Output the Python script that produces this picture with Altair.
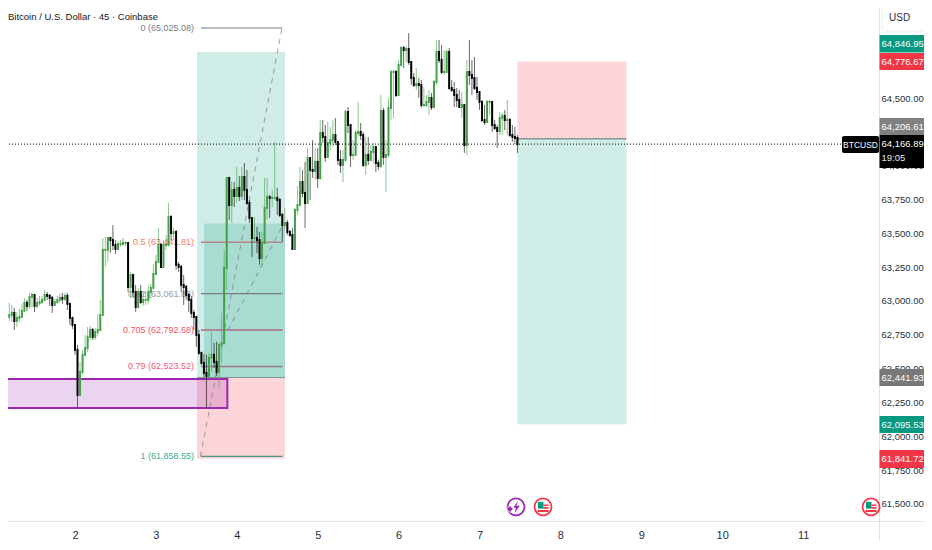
import altair as alt
import pandas as pd

FONT = "Liberation Sans"

first_candle = -26
first_open = 62890
closes = [62904,62919,62860,62882,62889,62934,62993,62971,63037,63052,62971,62993,63000,63015,63052,63045,63030,62978,63000,63015,63030,63023,63045,62986,62882,62830,
62646,62313,62483,62609,62660,62742,62793,62742,62778,62793,62904,63385,63385,63473,63458,63421,63392,63429,63429,63436,63436,63111,63200,63074,62964,63074,63000,63015,63015,63074,63104,63207,
63296,63421,63259,63421,63421,63628,63510,63517,63274,63259,63126,63111,63052,63015,62919,62889,62756,62624,62550,62476,62454,62587,62609,62557,62483,62682,62697,63252,
63917,63717,63828,63784,63843,63784,63924,63828,63732,63621,63473,63473,63458,63325,63436,63695,63776,63769,63769,63769,63754,63643,63569,63584,63517,63495,63392,63680,63717,63887,
63806,63732,64064,63976,63968,64035,63917,64249,64220,64072,64175,64197,64234,64183,64050,64013,64050,64404,64308,64087,64087,64249,64257,64234,64013,64087,64050,64109,64146,64027,
64005,64412,64072,64087,64434,64700,64700,64530,64752,64877,64862,64870,64774,64656,64604,64611,64604,64456,64456,64478,64508,64441,64626,64848,64789,64700,64700,64848,64582,64567,
64530,64493,64441,64456,64160,64700,64678,64656,64582,64552,64478,64345,64331,64478,64478,64308,64286,64264,64360,64375,64345,64345,64234,64220,64212,64166.89]
highs = [62993,62978,62956,62927,62949,62986,63030,63015,63067,63067,63059,63030,63045,63045,63089,63074,63059,63045,63023,63045,63059,63067,63067,63067,62993,62882,
62830,62682,62557,62646,62756,62815,62823,62808,62808,62912,63015,63473,63480,63480,63480,63569,63458,63451,63458,63473,63451,63436,63222,63200,63126,63104,63126,63074,63082,63119,63133,63281,
63348,63547,63436,63458,63495,63732,63643,63547,63532,63296,63274,63200,63126,63067,63045,62941,62897,62793,62624,62616,62609,62624,62778,62697,62705,62697,62919,63385,
63924,63924,63887,63887,63998,63931,63998,64027,63976,63754,63591,63628,63554,63517,63517,63917,63917,63791,63828,64183,63843,63769,63658,63695,63606,63532,63547,63695,63857,63998,
63976,64035,64138,64064,64197,64138,64138,64345,64345,64308,64331,64294,64345,64360,64183,64124,64124,64419,64441,64308,64197,64271,64478,64323,64257,64220,64220,64160,64175,64153,
64050,64530,64434,64197,64508,64715,64715,64715,64789,64892,64892,64892,64988,64774,64693,64729,64656,64641,64589,64530,64567,64545,64641,64936,64936,64899,64862,64862,64877,64641,
64626,64582,64567,64552,64456,64789,64936,64789,64811,64663,64552,64493,64456,64493,64493,64471,64345,64308,64404,64397,64419,64493,64360,64308,64294,64234]
lows = [62860,62852,62793,62815,62852,62897,62934,62934,62949,62956,62927,62949,62971,62986,63008,63015,62971,62919,62971,62986,62993,62986,63008,62941,62830,62801,
62609,62217,62328,62461,62602,62631,62720,62720,62720,62749,62793,62897,63259,63296,63362,63385,63355,63385,63407,63414,63414,63074,63030,63030,62927,62949,62986,62971,62978,62986,63030,63104,
63200,63296,63252,63252,63385,63414,63458,63458,63237,63222,63074,62978,63015,62927,62882,62793,62668,62609,62535,62446,62217,62446,62483,62513,62454,62365,62550,62682,
63089,63606,63584,63702,63739,63747,63754,63754,63717,63584,63333,63436,63362,63274,63259,63436,63606,63621,63702,63754,63643,63628,63444,63532,63495,63480,63385,63385,63643,63717,
63776,63547,63732,63754,63917,63902,63843,63902,64175,64035,64087,64124,64146,64160,64013,63954,63887,64050,64249,63998,64050,64087,64220,64197,63998,63939,64013,64050,64027,63961,
63976,63990,64013,63813,64072,64345,64360,64515,64530,64744,64729,64774,64752,64604,64589,64567,64508,64434,64441,64441,64382,64419,64434,64604,64766,64685,64678,64693,64567,64552,
64441,64441,64434,64360,64101,64087,64604,64530,64567,64493,64419,64331,64308,64323,64382,64257,64271,64138,64234,64234,64271,64234,64220,64183,64167,64101]

day_ticks = [2,3,4,5,6,7,8,9,10,11]
price_ticks = [61500,61750,62000,62250,62500,62750,63000,63250,63500,63750,64000,64500]

fib_levels = ["0","0.5","0.62","0.705","0.79","1"]
fib_prices = [65025.08,63441.81,63061.83,62792.68,62523.52,61858.55]
fib_text = ["#787b86","#f5796c","#9a9da6","#f4525f","#ee5a7c","#35ad93"]
fib_line = ["#787b86","#b9848c","#787b86","#b0688a","#9b7488","#4a9585"]
fib_days = [3.557,4.565]
fib_label_day = 3.471

long_days = [3.508,4.596]
long_prices = [64846.95,62441.93,61841.72]
short_days = [7.470,8.817]
short_prices = [64776.67,64206.61,62095.53]
zone_days = [3.595,4.596]
zone_prices = [63580,62441.93]
purple_days = [1.0,3.883]
purple_prices = [62431,62217]
dash_a = [[3.551,61858.55],[4.559,65025.08]]
dash_b = [[3.891,62792.68],[4.559,63554]]
last_price = 64166.89

flag_days = [7.785,11.84]
bolt_day = 7.451
icon_price = 61485

xs = alt.Scale(domain=[1.172,11.938], nice=False, zero=False)
ys = alt.Scale(domain=[61381,65173], nice=False, zero=False)

x_axis = alt.Axis(title=None,values=day_ticks,format="d",domain=False,ticks=False,grid=False,
    labelFont=FONT,labelFontSize=11,labelColor="#2a2e39",labelPadding=8,labelFlush=False)
y_axis = alt.Axis(title=None,orient="right",values=price_ticks,format=",.2f",domain=False,ticks=False,grid=False,
    labelFont=FONT,labelFontSize=9.5,labelColor="#2a2e39",labelPadding=2,labelOverlap=False,labelOffset=-1)

def X(f): return alt.X(f, type="quantitative", scale=xs, axis=x_axis)
def Y(f): return alt.Y(f, type="quantitative", scale=ys, axis=y_axis)
def D(rows): return alt.Data(values=rows)

def box(d0,d1,p0,p1,fill,**kw):
    return alt.Chart(D([{"a":d0,"b":d1,"p":p0,"q":p1}])).mark_rect(fill=fill,**kw).encode(
        x=X("a"),x2=alt.X2("b"),y=Y("p"),y2=alt.Y2("q"))
def hline(d0,d1,p,color,width=1,**kw):
    return alt.Chart(D([{"a":d0,"b":d1,"p":p}])).mark_rule(color=color,strokeWidth=width,**kw).encode(
        x=X("a"),x2=alt.X2("b"),y=Y("p"))
def seg(pair):
    return alt.Chart(D([{"a":pair[0][0],"b":pair[1][0],"p":pair[0][1],"q":pair[1][1]}])).mark_rule(
        color="#787b86",strokeWidth=1,strokeDash=[5,5],opacity=.75).encode(
        x=X("a"),x2=alt.X2("b"),y=Y("p"),y2=alt.Y2("q"))

rows=[]
prev=first_open
for i,(c,h,l) in enumerate(zip(closes,highs,lows)):
    day=2+(first_candle+i)/32
    rows.append({"day":day,"open":prev,"close":c,"high":max(h,prev,c),"low":min(l,prev,c),
                 "col":"#43a047" if c>=prev else "#000000"})
    prev=c
df=pd.DataFrame(rows)

layers=[box(long_days[0],long_days[1],long_prices[0],long_prices[1],"#cfece6"),
        box(long_days[0],long_days[1],long_prices[1],long_prices[2],"#fcd5d8"),
        box(zone_days[0],zone_days[1],zone_prices[0],zone_prices[1],"#a8dcd1"),
        box(short_days[0],short_days[1],short_prices[0],short_prices[1],"#fcd5d8"),
        box(short_days[0],short_days[1],short_prices[1],short_prices[2],"#cfece6"),
        hline(long_days[0],long_days[1],long_prices[1],"#7f9a95"),
        hline(short_days[0],short_days[1],short_prices[1],"#8a9598",1.5)]
for lv,p,tc,lc in zip(fib_levels,fib_prices,fib_text,fib_line):
    layers.append(hline(fib_days[0],fib_days[1],p,lc,1.5 if lv in("0.5","0.705","0.79") else 1.2))
    layers.append(alt.Chart(D([{"d":fib_label_day,"p":p,"t":f"{lv} ({p:,.2f})"}])).mark_text(
        align="right",baseline="middle",font=FONT,fontSize=9,color=tc).encode(x=X("d"),y=Y("p"),text="t:N"))
layers.append(box(purple_days[0],purple_days[1],purple_prices[0],purple_prices[1],"#9c27b0",
                  fillOpacity=.2,stroke="#9c27b0",strokeWidth=2))
layers+=[seg(dash_a),seg(dash_b)]

base=alt.Chart(df)
layers.append(base.mark_rule(strokeWidth=1,opacity=.6).encode(
    x=X("day"),y=Y("low"),y2=alt.Y2("high"),color=alt.Color("col:N",scale=None)))
layers.append(base.mark_rule(strokeWidth=2,strokeCap="square").encode(
    x=X("day"),y=Y("open"),y2=alt.Y2("close"),color=alt.Color("col:N",scale=None)))

# last price line
layers.append(alt.Chart(D([{"p":last_price}])).mark_rule(color="#000000",strokeWidth=1,strokeDash=[1,2]).encode(
    x=alt.value(-8),x2=alt.value(836),y=Y("p")))

# frame
layers.append(alt.Chart(D([{}])).mark_rule(color="#e0e3eb",strokeWidth=1).encode(
    x=alt.value(871.5),y=alt.value(-8),y2=alt.value(534)))
layers.append(alt.Chart(D([{}])).mark_rule(color="#e0e3eb",strokeWidth=1).encode(
    x=alt.value(-8),x2=alt.value(924),y=alt.value(513.5)))

def pixrect(x0,x1,y0,y1,fill,**kw):
    return alt.Chart(D([{}])).mark_rect(fill=fill,**kw).encode(
        x=alt.value(x0),x2=alt.value(x1),y=alt.value(y0),y2=alt.value(y1))
def pixtext(x,y,t,color="#ffffff",size=9.5,align="left",**kw):
    return alt.Chart(D([{}])).mark_text(align=align,baseline="middle",font=FONT,fontSize=size,color=color,**kw).encode(
        x=alt.value(x),y=alt.value(y),text=alt.value(t))

# price badges: text, colour, top and bottom
badges=[("64,846.95","#089981",27,44.5),("64,776.67","#f23645",45,62),("64,206.61","#808080",110,127),
        ("62,441.93","#787878",361,378),("62,095.53","#089981",408,425),("61,841.72","#f23645",442,460)]
for t,c,a,b in badges:
    layers.append(pixrect(871.5,916,a,b,c))
    layers.append(pixtext(873.5,(a+b)/2,t))
layers.append(pixrect(871.5,916,127,160,"#000000"))
layers.append(pixtext(873.5,136,"64,166.89"))
layers.append(pixtext(873.5,150,"19:05",color="#e8e8e8"))
layers.append(pixrect(834,871,128,145,"#000000",cornerRadius=2))
layers.append(pixtext(852.5,136.5,"BTCUSD",align="center",size=8.5))
layers.append(pixrect(874,920,-4,23,"#ffffff",cornerRadius=4,stroke="#eceef2",strokeWidth=1))
layers.append(pixtext(881,10,"USD",color="#2a2e39",size=10))
layers.append(pixtext(0,9,"Bitcoin / U.S. Dollar · 45 · Coinbase",color="#131722",size=9.5))

# event icons
flag_rows=[{"d":d,"p":icon_price} for d in flag_days]
S=289
layers.append(alt.Chart(D(flag_rows)).mark_point(shape="circle",size=S,filled=False,fill="#ffffff",fillOpacity=1,stroke="#f23645",strokeWidth=1.8,opacity=1).encode(x=X("d"),y=Y("p")))
layers.append(alt.Chart(D(flag_rows)).mark_point(shape="M-0.6,-0.6H0.05V0.2H-0.6Z",size=S,filled=True,fill="#089981",opacity=1,strokeWidth=0).encode(x=X("d"),y=Y("p")))
layers.append(alt.Chart(D(flag_rows)).mark_point(shape="M0.05,-0.3H0.65V-0.1H0.05Z M0.05,0H0.65V0.2H0.05Z M-0.65,0.35H0.65V0.6H-0.65Z",size=S,filled=True,fill="#f23645",opacity=1,strokeWidth=0).encode(x=X("d"),y=Y("p")))
bolt=[{"d":bolt_day,"p":icon_price}]
layers.append(alt.Chart(D(bolt)).mark_point(shape="circle",size=S,filled=False,fill="#ffffff",fillOpacity=1,stroke="#9c27b0",strokeWidth=1.8,opacity=1).encode(x=X("d"),y=Y("p")))
layers.append(alt.Chart(D(bolt)).mark_point(shape="M0.25,-0.75L-0.3,0.1H0L-0.2,0.75L0.45,-0.15H0.05Z",size=S,filled=True,fill="#9c27b0",opacity=1,strokeWidth=0).encode(x=X("d"),y=Y("p")))
layers.append(alt.Chart(D([{"d":bolt_day-0.075,"p":icon_price-15}])).mark_point(shape="diamond",size=50,filled=True,fill="#9c27b0",stroke="#ffffff",strokeWidth=1,opacity=1).encode(x=X("d"),y=Y("p")))

chart=alt.layer(*layers).properties(width=871,height=513,
    padding={"left":0,"top":0,"right":45,"bottom":20},
    autosize=alt.AutoSizeParams(type="none"),
    background="#ffffff").configure_view(stroke=None)
chart.save("out.html",embed_options={"renderer":"svg","actions":False})
